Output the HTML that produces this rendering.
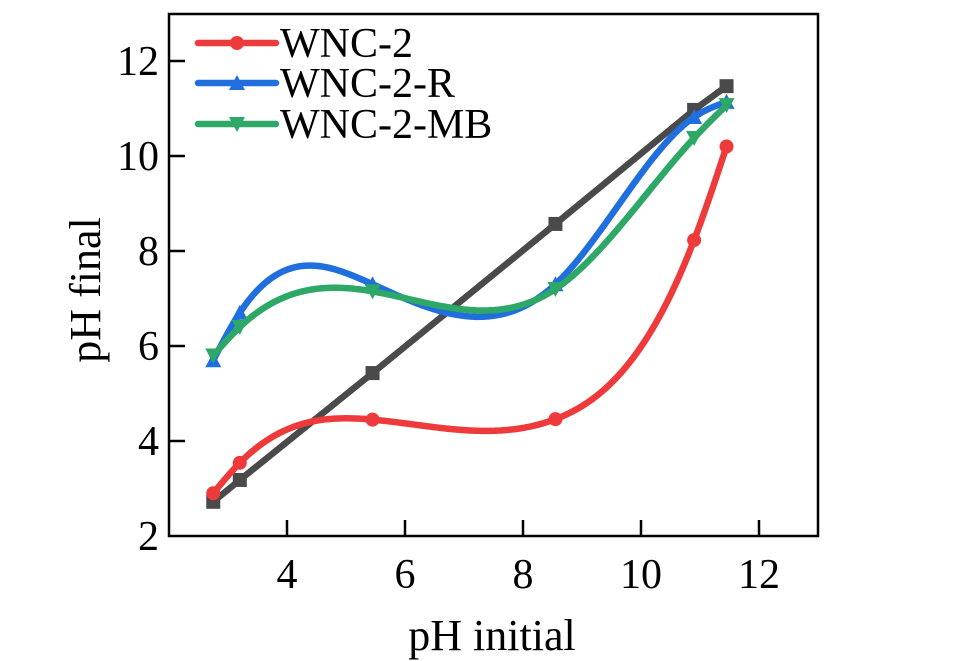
<!DOCTYPE html>
<html><head><meta charset="utf-8"><style>
html,body{margin:0;padding:0;background:#fff;}
svg{display:block;font-family:"Liberation Serif",serif;}
</style></head><body>
<svg id="chart" width="954" height="661" viewBox="0 0 954 661" xmlns="http://www.w3.org/2000/svg">
<g id="plot"></g>
<g id="axes"></g>
</svg>
<script>
const xs = [2.75, 3.2, 5.45, 8.55, 10.9, 11.45];
const blackY = [2.72, 3.18, 5.43, 8.57, 10.97, 11.47];
const redY = [2.9, 3.54, 4.45, 4.46, 8.23, 10.2];
const blueY = [5.7, 6.7, 7.3, 7.3, 10.82, 11.14];
const greenY = [5.8, 6.4, 7.15, 7.2, 10.38, 11.07];
const xTicks = [4, 6, 8, 10, 12];
const yTicks = [2, 4, 6, 8, 10, 12];
const seriesNames = ["WNC-2", "WNC-2-R", "WNC-2-MB"];

const L=169, R=818, T=14, B=536;
const xMin=2, xMax=13, yMin=2, yMax=13;
const sx = v => L + (v - xMin) * 59;
const sy = v => B - (v - yMin) * 47.5;
const NS="http://www.w3.org/2000/svg";
const plot=document.getElementById('plot'), axes=document.getElementById('axes');
function mk(tag, attrs, parent){const e=document.createElementNS(NS,tag);for(const k in attrs)e.setAttribute(k,attrs[k]);parent.appendChild(e);return e;}

function spline(x,y){
  const n=x.length, h=[], a=[], l=[1], mu=[0], z=[0], c=new Array(n).fill(0), b=[], d=[];
  for(let i=0;i<n-1;i++)h.push(x[i+1]-x[i]);
  for(let i=1;i<n-1;i++)a[i]=3/h[i]*(y[i+1]-y[i])-3/h[i-1]*(y[i]-y[i-1]);
  for(let i=1;i<n-1;i++){l[i]=2*(x[i+1]-x[i-1])-h[i-1]*mu[i-1];mu[i]=h[i]/l[i];z[i]=(a[i]-h[i-1]*z[i-1])/l[i];}
  for(let j=n-2;j>=0;j--){c[j]=z[j]-mu[j]*c[j+1];if(j==0)c[0]=0;b[j]=(y[j+1]-y[j])/h[j]-h[j]*(c[j+1]+2*c[j])/3;d[j]=(c[j+1]-c[j])/(3*h[j]);}
  let p="";
  for(let i=0;i<n-1;i++){for(let k=0;k<=30;k++){const t=h[i]*k/30;const v=y[i]+b[i]*t+c[i]*t*t+d[i]*t*t*t;p+=(p?"L":"M")+sx(x[i]+t).toFixed(2)+","+sy(v).toFixed(2);}}
  return p;
}
function marker(kind,cx,cy,col,parent){
  let e;
  if(kind==='sq')e=mk('rect',{x:cx-7,y:cy-7,width:14,height:14,fill:col},parent);
  else if(kind==='ci')e=mk('circle',{cx:cx,cy:cy,r:7,fill:col},parent);
  else if(kind==='up')e=mk('polygon',{points:`${cx},${cy-8} ${cx-8},${cy+7} ${cx+8},${cy+7}`,fill:col},parent);
  else e=mk('polygon',{points:`${cx},${cy+8} ${cx-8},${cy-7} ${cx+8},${cy-7}`,fill:col},parent);
  return e;
}
let g=mk('g',{},plot);


let pb=xs.map((x,i)=>(i?"L":"M")+sx(x)+","+sy(blackY[i])).join("");
mk('path',{d:pb,fill:'none',stroke:'#4a4a4a','stroke-width':6.5,'stroke-linejoin':'round'},g);
xs.forEach((x,i)=>{const m=marker('sq',sx(x),sy(blackY[i]),'#4a4a4a',g);

});

const sers=[[redY,'#ee3a3a','ci','series-wnc-2'],[blueY,'#1f6fde','up','series-wnc-2-r'],[greenY,'#2ea866','dn','series-wnc-2-mb']];
sers.forEach(s=>{
  const gg=mk('g',{},plot);
  
  
  mk('path',{d:spline(xs,s[0]),fill:'none',stroke:s[1],'stroke-width':6.5,'stroke-linecap':'round'},gg);
  xs.forEach((x,i)=>{const m=marker(s[2],sx(x),sy(s[0][i]),s[1],gg);
  
  });
});

const fr=mk('rect',{x:L,y:T,width:R-L,height:B-T,fill:'none',stroke:'#000','stroke-width':2.5},axes);


xTicks.forEach(t=>{
  mk('line',{x1:sx(t),x2:sx(t),y1:B,y2:B-16,stroke:'#000','stroke-width':2.5},axes);
  const tx=mk('text',{x:sx(t),y:B+52,'font-size':42,'text-anchor':'middle'},axes);tx.textContent=t;
  
  
});
yTicks.forEach(t=>{
  if(t>yMin)mk('line',{x1:L,x2:L+16,y1:sy(t),y2:sy(t),stroke:'#000','stroke-width':2.5},axes);
  const tx=mk('text',{x:L-10,y:sy(t)+14,'font-size':42,'text-anchor':'end'},axes);tx.textContent=t;
  
  
});
const xt=mk('text',{x:492,y:650,'font-size':44,'text-anchor':'middle'},axes);xt.textContent='pH initial';


const yt=mk('text',{x:0,y:0,'font-size':44,'text-anchor':'middle',transform:'translate(100,290) rotate(-90)'},axes);yt.textContent='pH final';



const lcols=['#ee3a3a','#1f6fde','#2ea866'], lmk=['ci','up','dn'], ly=[43,83,124];
seriesNames.forEach((n,i)=>{
  const lg=mk('g',{},axes);
  
  
  mk('line',{x1:198,x2:276,y1:ly[i],y2:ly[i],stroke:lcols[i],'stroke-width':6.5,'stroke-linecap':'round'},lg);
  marker(lmk[i],237,ly[i],lcols[i],lg);
  const t=mk('text',{x:280,y:ly[i]+14,'font-size':42},lg);t.textContent=n;
});
</script>
</body></html>
